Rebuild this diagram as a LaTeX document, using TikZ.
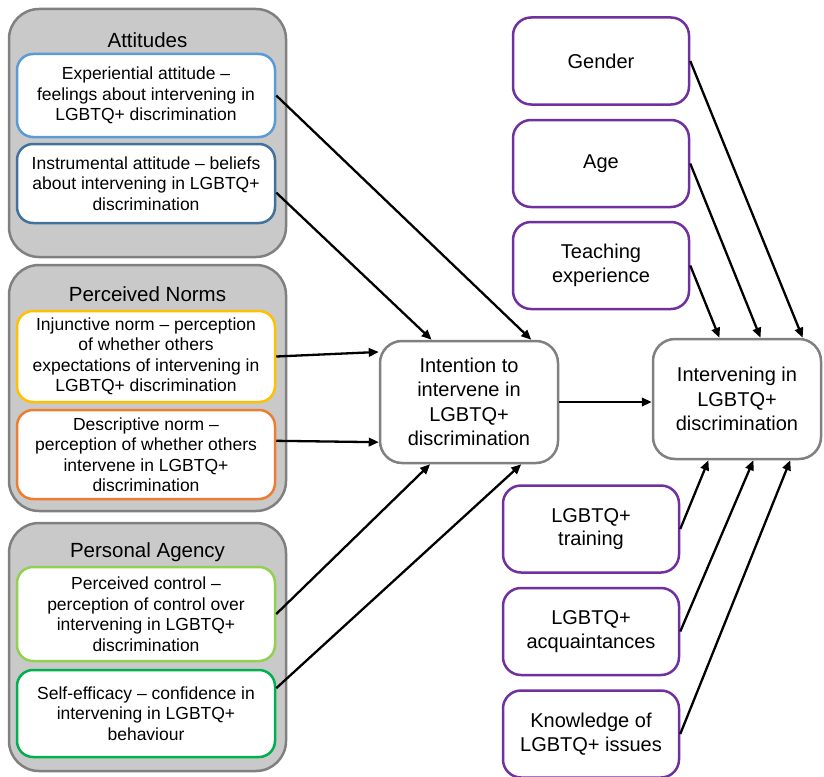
\documentclass[tikz,border=0pt]{standalone}
\usepackage{fontspec}
\setmainfont{Liberation Sans}
\usetikzlibrary{arrows.meta, positioning}
\definecolor{GroupGray}{HTML}{C9C9C9}
\definecolor{FrameGray}{HTML}{808080}
\definecolor{AttLight}{HTML}{5B9BD5}
\definecolor{AttDark}{HTML}{41719C}
\definecolor{NormYellow}{HTML}{FFC000}
\definecolor{NormOrange}{HTML}{ED7D31}
\definecolor{AgencyLight}{HTML}{92D050}
\definecolor{AgencyDark}{HTML}{00B050}
\definecolor{CovPurple}{HTML}{7030A0}

\begin{document}
\begin{tikzpicture}[
    x=1pt, y=-1pt,
    every node/.style={font=\fontsize{17.5}{20.5}\selectfont, align=center, inner sep=2pt},
    group/.style={rectangle, rounded corners=30pt, draw=FrameGray, fill=GroupGray, line width=2.5pt, minimum width=277pt},
    heading/.style={font=\fontsize{20.5}{24}\selectfont},
    factor/.style={rectangle, rounded corners=16pt, fill=white, line width=2.5pt, minimum width=258pt},
    outcome/.style={rectangle, rounded corners=22pt, draw=FrameGray, fill=white, line width=2.5pt, font=\fontsize{20}{24.5}\selectfont},
    covariate/.style={rectangle, rounded corners=18pt, draw=CovPurple, fill=white, line width=2.5pt, minimum width=176pt, minimum height=87pt, font=\fontsize{20}{23.5}\selectfont},
    arrow/.style={-{Triangle[length=10pt,width=8.5pt]}, line width=2.3pt}
]
\useasboundingbox (0,0) rectangle (824,776);

% Attitudes
\node[group, minimum height=248pt] (attgroup) at (147.5,133) {};
\node[heading] (atthead) at (147.5,40) {Attitudes};
\node[factor, draw=AttLight, minimum height=83pt] (exper) at (146,95.5) {Experiential attitude --\\feelings about intervening in\\LGBTQ+ discrimination};
\node[factor, draw=AttDark, minimum height=79pt, below=4.5pt of exper] (instr) {Instrumental attitude -- beliefs\\about intervening in LGBTQ+\\discrimination};

% Perceived norms
\node[group, minimum height=246pt] (normgroup) at (147.5,388) {};
\node[heading] (normhead) at (147.5,294) {Perceived Norms};
\node[factor, draw=NormYellow, minimum height=91pt] (injunct) at (146,356.5) {Injunctive norm -- perception\\of whether others\\expectations of intervening in\\LGBTQ+ discrimination};
\node[factor, draw=NormOrange, minimum height=89pt, below=5.5pt of injunct] (descr) {Descriptive norm --\\perception of whether others\\intervene in LGBTQ+\\discrimination};

% Personal agency
\node[group, minimum height=248pt] (agencygroup) at (147.5,647) {};
\node[heading] (agencyhead) at (147.5,552) {Personal Agency};
\node[factor, draw=AgencyLight, minimum height=94pt] (control) at (146,614) {Perceived control --\\perception of control over\\intervening in LGBTQ+\\discrimination};
\node[factor, draw=AgencyDark, minimum height=87pt, below=6.5pt of control] (efficacy) {Self-efficacy -- confidence in\\intervening in LGBTQ+\\behaviour};

% Intention and behaviour
\node[outcome, minimum width=178pt, minimum height=122pt] (intent) at (469,402) {Intention to\\intervene in\\LGBTQ+\\discrimination};
\node[outcome, minimum width=168pt, minimum height=120pt] (interv) at (737,399) {Intervening in\\LGBTQ+\\discrimination};

% Covariates
\node[covariate] (gender) at (601,61) {Gender};
\node[covariate, below=13pt of gender] (age) {Age};
\node[covariate, below=12.5pt of age] (teaching) {Teaching\\experience};
\node[covariate] (training) at (591,529) {LGBTQ+\\training};
\node[covariate, below=13pt of training] (acquaint) {LGBTQ+\\acquaintances};
\node[covariate, below=13pt of acquaint] (knowledge) {Knowledge of\\LGBTQ+ issues};

% Arrows
\draw[arrow] (exper.east) -- (intent.45);
\draw[arrow] (instr.-4) -- (intent.121);
\draw[arrow] (injunct.east) -- (intent.151);
\draw[arrow] (descr.6) -- (intent.204);
\draw[arrow] (control.east) -- (intent.238);
\draw[arrow] (efficacy.11) -- (intent.310);
\draw[arrow] (intent.east) -- (intent.east -| interv.west);

\draw[arrow] (gender.east) -- (interv.43);
\draw[arrow] (age.east) -- (interv.69);
\draw[arrow] (teaching.east) -- (interv.106);
\draw[arrow] (training.east) -- (interv.245);
\draw[arrow] (acquaint.east) -- (interv.285);
\draw[arrow] (knowledge.east) -- (interv.311);

\end{tikzpicture}
\end{document}
